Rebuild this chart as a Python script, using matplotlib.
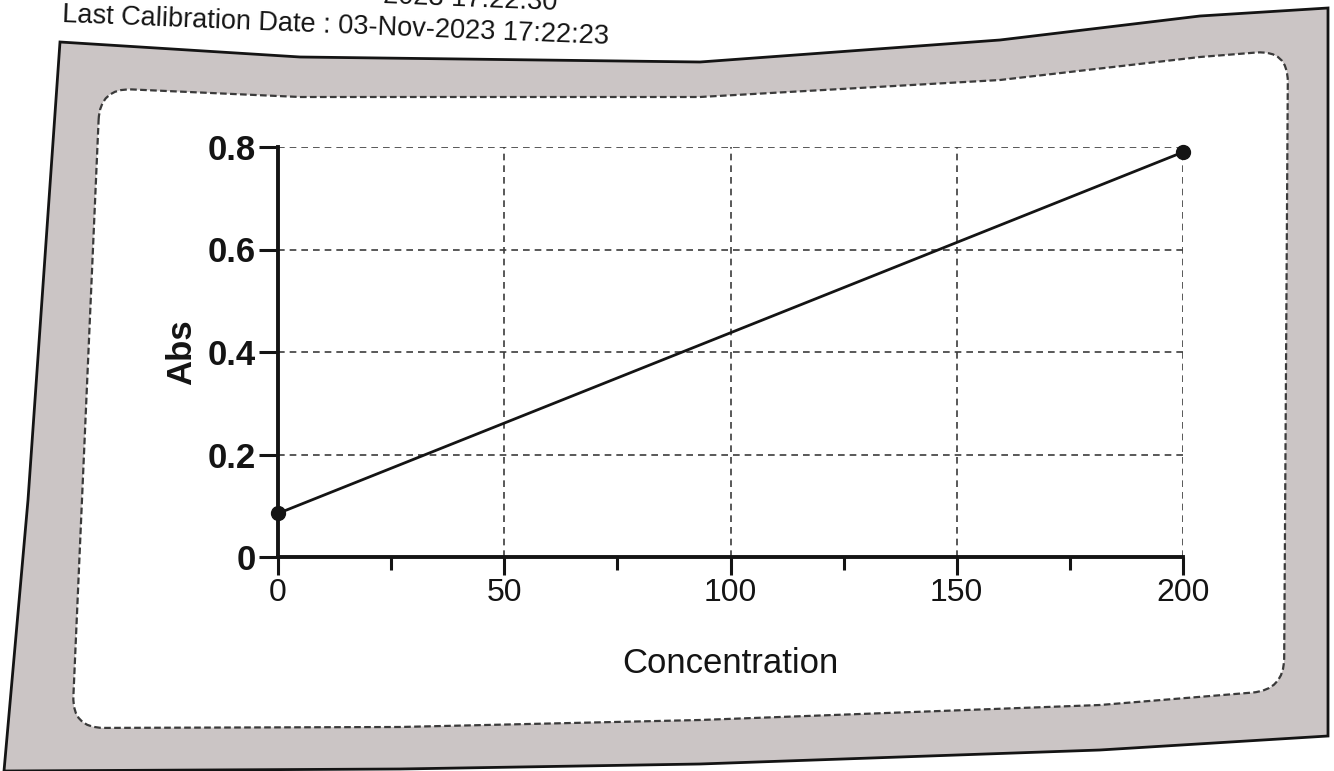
import matplotlib
matplotlib.use("Agg")
import matplotlib.pyplot as plt
from matplotlib.patches import Polygon, PathPatch
from matplotlib.path import Path

# calibration points
concentration = [0, 200]
absorbance = [0.085, 0.79]

x_ticks = [0, 50, 100, 150, 200]
x_minor = [25, 75, 125, 175]
y_ticks = [0, 0.2, 0.4, 0.6, 0.8]
y_labels = ["0", "0.2", "0.4", "0.6", "0.8"]

title = "Last Calibration Date : 03-Nov-2023 17:22:23"
top_line = "2023 17:22:30"   # previous line, cut off by the scan

W, H = 1334, 771
ink = "#141414"
narrow = ["Liberation Sans Narrow", "Liberation Sans", "DejaVu Sans"]
bold_font = ["Liberation Sans", "DejaVu Sans"]


def rounded_path(pts, corners, r):
    # closed polyline, rounding the vertices whose index is in corners
    verts, codes = [], []
    n = len(pts)
    for i in range(n):
        p = pts[i]
        if i not in corners:
            verts.append(p)
            codes.append(Path.LINETO)
            continue
        a, b = pts[i - 1], pts[(i + 1) % n]
        da = ((a[0] - p[0]) ** 2 + (a[1] - p[1]) ** 2) ** 0.5
        db = ((b[0] - p[0]) ** 2 + (b[1] - p[1]) ** 2) ** 0.5
        p1 = (p[0] + (a[0] - p[0]) * r / da, p[1] + (a[1] - p[1]) * r / da)
        p2 = (p[0] + (b[0] - p[0]) * r / db, p[1] + (b[1] - p[1]) * r / db)
        verts += [p1, p, p2]
        codes += [Path.LINETO, Path.CURVE3, Path.CURVE3]
    codes[0] = Path.MOVETO
    verts.append(verts[0])
    codes.append(Path.CLOSEPOLY)
    return Path(verts, codes)


fig = plt.figure(figsize=(W / 100, H / 100), dpi=100)
fig.patch.set_facecolor("white")

# background page: warped gray printed frame + white rounded panel (pixel coords)
bg = fig.add_axes([0, 0, 1, 1], zorder=0)
bg.set_xlim(0, W)
bg.set_ylim(H, 0)
bg.axis("off")
outer = [(60, 42), (300, 57), (700, 62), (1000, 40), (1200, 16), (1328, 8),
         (1328, 736), (1100, 750), (700, 764), (400, 769), (4, 771), (28, 500)]
bg.add_patch(Polygon(outer, closed=True, facecolor="#cbc5c5", edgecolor=ink, lw=2))
inner = [(100, 88), (300, 97), (700, 97), (1000, 80), (1200, 57), (1288, 50),
         (1284, 690), (1100, 705), (700, 720), (400, 727), (72, 728)]
bg.add_patch(PathPatch(rounded_path(inner, {0, 5, 6, 10}, 32), facecolor="white",
                       edgecolor="#3a3a3a", lw=1.6, ls=(0, (3, 1.5))))
bg.text(62, 15, title, fontsize=19.5, family=narrow, color=ink,
        rotation=-2.3, rotation_mode="anchor", ha="left", va="center")
bg.text(383, -4, top_line, fontsize=19.5, family=narrow, color=ink,
        rotation=-2.3, rotation_mode="anchor", ha="left", va="center")

# chart
ax = fig.add_axes([278 / W, 1 - 557 / H, (1183 - 278) / W, (557 - 147) / H], zorder=2)
ax.patch.set_alpha(0)
ax.plot(concentration, absorbance, color=ink, lw=2, marker="o", ms=10, clip_on=False, zorder=5)

ax.set_xlim(0, 200)
ax.set_ylim(0, 0.8)
ax.set_xticks(x_ticks)
ax.set_xticks(x_minor, minor=True)
ax.set_yticks(y_ticks)
ax.set_yticklabels(y_labels, fontsize=25, fontweight="bold", family=bold_font)
ax.set_xticklabels([str(v) for v in x_ticks], fontsize=23, family=narrow)

ax.tick_params(axis="y", direction="out", length=14, width=2.2, color=ink, pad=2, labelcolor=ink)
ax.tick_params(axis="x", which="major", direction="out", length=13, width=2.2, color=ink, pad=2,
               labelcolor=ink)
ax.tick_params(axis="x", which="minor", direction="out", length=9, width=2.2, color=ink)

ax.grid(True, which="major", ls=(0, (4, 3)), color="#3c3c3c", lw=1.2)
for side in ("top", "right"):
    ax.spines[side].set_visible(False)
for side in ("left", "bottom"):
    ax.spines[side].set_linewidth(2.8)
    ax.spines[side].set_color(ink)

ax.set_ylabel("Abs", fontsize=25, fontweight="bold", family=bold_font, color=ink, labelpad=7)
ax.set_xlabel("Concentration", fontsize=25, family=narrow, color=ink, labelpad=28)

fig.savefig("out.png", dpi=100)
